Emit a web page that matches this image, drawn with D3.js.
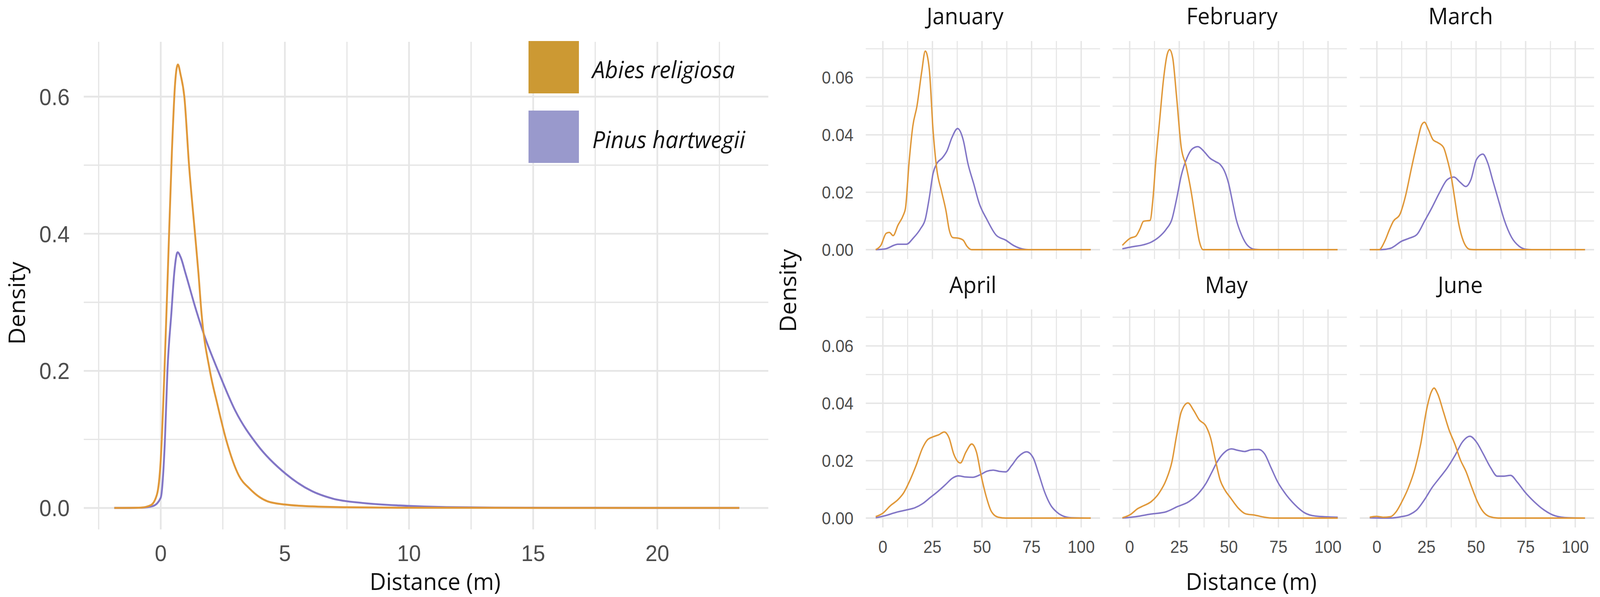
<!DOCTYPE html>
<html>
<head>
<meta charset="utf-8">
<script src="https://cdn.jsdelivr.net/npm/d3@7"></script>
<style>
  html, body { margin: 0; padding: 0; background: #fff; overflow: hidden; }
  svg { display: block; }
</style>
</head>
<body>
<div id="chart"></div>
<script>
/**
 * CONSTANTS AND GLOBALS
 * */
const width = 4317,
  height = 1528;

const orangeLine = "#e09839",
  purpleLine = "#8276c6",
  orangeKey = "#cc9933",
  purpleKey = "#9999cc",
  gridColor = "#e6e6e6",
  tickColor = "#4d4d4d",
  titleFont = "'Open Sans', sans-serif",
  tickFont = "'Liberation Sans', Arial, sans-serif";

// species shown in the legend
const species = ["Abies religiosa", "Pinus hartwegii"];
const months = ["January", "February", "March", "April", "May", "June"];

// overall densities, [distance m, density]
const abiesAll = [[-1.87,0],[-0.8,0.0005],[-0.4,0.004],[-0.15,0.02],[0,0.07],[0.15,0.2],[0.3,0.36],[0.45,0.52],[0.58,0.62],[0.69,0.647],[0.8,0.632],[0.95,0.6],[1.14,0.5],[1.38,0.4],[1.52,0.342],[1.64,0.285],[1.98,0.2],[2.27,0.153],[2.63,0.1],[3.15,0.047],[3.57,0.0285],[4.3,0.0097],[5.0,0.005],[6.1,0.0023],[7.5,0.001],[10,0.0003],[15,0.0001],[23.3,0]];
const pinusAll = [[-1.87,0],[-0.8,0.0004],[-0.3,0.003],[0,0.015],[0.17,0.1],[0.27,0.2],[0.43,0.285],[0.55,0.345],[0.68,0.373],[0.8,0.366],[1.0,0.342],[1.43,0.288],[1.79,0.248],[2.31,0.2],[3.0,0.142],[3.89,0.092],[5.04,0.0496],[6.09,0.0245],[6.92,0.0137],[8.18,0.0071],[9.94,0.0031],[11.5,0.0012],[13.5,0.0005],[16,0.0002],[23.3,0]];

// monthly densities
const abiesJan = [[-3.6,0],[-1,0.0015],[1.7,0.0057],[3.3,0.006],[5.2,0.0049],[7.6,0.0085],[10.3,0.012],[11.4,0.0144],[13.3,0.031],[15.1,0.043],[17.2,0.05],[19.6,0.062],[21.4,0.0692],[23.4,0.063],[25.3,0.0418],[27.2,0.028],[29.6,0.0203],[31.9,0.0133],[33.4,0.0071],[35.3,0.0042],[38.1,0.004],[40.5,0.0033],[42.4,0.0012],[44.8,0],[104.8,0]];
const pinusJan = [[-3.6,0],[1.4,0.0003],[7.6,0.0019],[11.9,0.0019],[15.3,0.004],[19.1,0.0074],[21.4,0.0106],[23.4,0.018],[25.3,0.0265],[27.2,0.03],[30,0.032],[32.4,0.0345],[34.8,0.039],[37.7,0.0422],[40.5,0.0383],[42.9,0.03],[45.8,0.023],[48.6,0.0161],[52.4,0.0106],[57.2,0.005],[62,0.0033],[65.8,0.0015],[71.5,0.0001],[73.4,0],[104.8,0]];
const abiesFeb = [[-3.7,0.0015],[0.3,0.004],[3.1,0.0047],[5.1,0.0071],[7,0.0099],[10.3,0.0102],[11.7,0.0175],[13.2,0.031],[15.1,0.045],[17,0.059],[18.9,0.068],[20.1,0.0697],[21.7,0.0668],[23.6,0.0536],[26,0.0356],[28.4,0.0293],[30.8,0.021],[33.2,0.0106],[35.1,0.003],[37,0],[104.8,0]];
const pinusFeb = [[-3.7,0.0003],[1.2,0.001],[7,0.0017],[10.8,0.0026],[14.6,0.0043],[18.4,0.0071],[21.3,0.0106],[23.6,0.0175],[26,0.0258],[28.9,0.032],[31.7,0.0352],[34.4,0.0359],[37.5,0.0342],[40.3,0.032],[43.2,0.0307],[45.6,0.0297],[47.9,0.0272],[49.9,0.023],[51.8,0.0168],[53.7,0.0106],[56.5,0.005],[59.4,0.0015],[63.2,0.0001],[66,0],[104.8,0]];
const abiesMar = [[-3.6,0],[1.1,0],[4,0.003],[6.4,0.0071],[8.3,0.0099],[11.6,0.0123],[14.5,0.0189],[17.3,0.028],[20.2,0.037],[22.6,0.0435],[24,0.0444],[26,0.0418],[28.3,0.0383],[30.7,0.0373],[33.6,0.0356],[35.5,0.0314],[37.4,0.0258],[39.3,0.0175],[41.2,0.0092],[43.6,0.003],[46.9,0.0001],[49,0],[104.9,0]];
const pinusMar = [[-3.6,0],[2.1,0],[6.9,0.0005],[12.6,0.003],[16.4,0.004],[20.2,0.0053],[24,0.0099],[27.8,0.0147],[31.6,0.0199],[35.5,0.0244],[38.8,0.0253],[42.1,0.0234],[44.8,0.022],[47.4,0.0244],[50.2,0.0314],[53.4,0.0333],[56,0.03],[58.3,0.0244],[61.2,0.0175],[64.1,0.0106],[67.9,0.0043],[71.7,0.0012],[75.5,0.0001],[78,0],[104.9,0]];
const abiesApr = [[-3.6,0.0005],[0,0.0017],[3.8,0.0043],[7.6,0.0064],[10.5,0.0088],[13.3,0.0126],[16.7,0.0182],[20,0.0244],[22.4,0.0272],[25.3,0.0283],[28.1,0.029],[31,0.03],[33.4,0.0279],[35.7,0.0224],[39.1,0.0192],[41.9,0.023],[44.8,0.0258],[47.2,0.023],[49.6,0.0147],[52,0.0078],[54.8,0.0022],[58.2,0.0003],[62,0],[104.8,0]];
const pinusApr = [[-3.6,0.0001],[1,0.0008],[6.7,0.002],[12.4,0.0029],[16.2,0.0036],[20,0.005],[23.8,0.0071],[27.6,0.0092],[31.5,0.0116],[35.3,0.014],[38.1,0.0147],[41.9,0.0143],[45.3,0.0142],[49.1,0.0151],[52.4,0.0163],[55.8,0.0167],[58.6,0.0163],[62,0.0161],[64.8,0.0182],[68.2,0.0213],[72.5,0.0231],[75.8,0.021],[78.6,0.0154],[81.5,0.0092],[84.8,0.0043],[87.5,0.0022],[90.5,0.0008],[95,0.0001],[104.8,0]];
const abiesMay = [[-3.7,0.0001],[0.3,0.0012],[4.1,0.0033],[7,0.0043],[10.8,0.0057],[14.6,0.0085],[18.4,0.0133],[21.3,0.0196],[23.6,0.0286],[26,0.037],[29.4,0.0401],[32.2,0.0376],[35.1,0.0342],[38.4,0.0321],[40.8,0.0279],[43.2,0.0203],[45.6,0.0133],[47.9,0.0099],[50.8,0.0071],[54.6,0.0036],[58.4,0.0015],[63.2,0.001],[68,0.0003],[72.7,0],[104.9,0]];
const pinusMay = [[-3.7,0],[3.1,0.0005],[10.8,0.0014],[18.4,0.0022],[24.1,0.004],[29.8,0.0057],[34.6,0.0085],[38.4,0.012],[41.3,0.0158],[44.1,0.0196],[47.5,0.0227],[51.3,0.0241],[54.6,0.0236],[57.9,0.0232],[61.3,0.0238],[65.1,0.0239],[68,0.0224],[71.3,0.0175],[74.6,0.0126],[78.5,0.0085],[83.2,0.0047],[88,0.0019],[93.7,0.0007],[104.9,0.0003]];
const abiesJun = [[-3.6,0.0003],[-0.3,0.0006],[3.1,0.0003],[6.9,0.0005],[9.7,0.0022],[12.6,0.0057],[15.9,0.0106],[19.3,0.0175],[22.1,0.0258],[25,0.0376],[27.4,0.0439],[28.8,0.0453],[30.7,0.0432],[33.6,0.0369],[36.4,0.0307],[39.3,0.0258],[42.1,0.0203],[45,0.0161],[47.9,0.0106],[50.7,0.0057],[53.6,0.0022],[56.9,0.0005],[61.2,0],[104.9,0]];
const pinusJun = [[-3.6,0.0001],[5.9,0],[11.6,0.0004],[16.4,0.0012],[20.2,0.0029],[24,0.0064],[27.8,0.0106],[31.6,0.014],[35.5,0.0175],[39.3,0.0217],[43.1,0.0265],[46.9,0.0285],[50.2,0.0265],[53.6,0.0224],[57.4,0.0175],[60.7,0.0146],[64.1,0.0146],[67.4,0.0149],[70.7,0.0126],[74.5,0.0092],[79.3,0.0057],[84.1,0.0029],[89.8,0.0008],[96.5,0.0001],[104.9,0]];

// tick values
const mainXTicks = [0, 5, 10, 15, 20];
const mainYTicks = [0, 0.2, 0.4, 0.6];
const facetXTicks = [0, 25, 50, 75, 100];
const facetYTicks = [0, 0.02, 0.04, 0.06];

let svg;

/**
 * INITIALIZING FUNCTION
 * */
function init() {
  // the drawing is laid out on a 4317 x 1528 grid and stretched to the window
  const vw = window.innerWidth || width,
    vh = window.innerHeight || height;

  svg = d3.select("#chart")
    .append("svg")
    .attr("width", vw)
    .attr("height", vh)
    .attr("viewBox", `0 0 ${width} ${height}`)
    .attr("preserveAspectRatio", "none");

  svg.append("rect")
    .attr("width", width)
    .attr("height", height)
    .attr("fill", "#fff");

  drawMain();
  drawFacets();
}

function gridLines(g, xScale, yScale, xs, ys, majorW, minorW, isMajorX, isMajorY) {
  const [x0, x1] = xScale.range();
  const [y0, y1] = yScale.range();
  g.selectAll(".hgrid")
    .data(ys)
    .join("line")
    .attr("class", "hgrid")
    .attr("x1", x0).attr("x2", x1)
    .attr("y1", d => yScale(d)).attr("y2", d => yScale(d))
    .attr("stroke", gridColor)
    .attr("stroke-width", d => isMajorY(d) ? majorW : minorW);
  g.selectAll(".vgrid")
    .data(xs)
    .join("line")
    .attr("class", "vgrid")
    .attr("y1", y0).attr("y2", y1)
    .attr("x1", d => xScale(d)).attr("x2", d => xScale(d))
    .attr("stroke", gridColor)
    .attr("stroke-width", d => isMajorX(d) ? majorW : minorW);
}

function axisTitle(parent, text, transform) {
  parent.append("text")
    .attr("transform", transform)
    .attr("text-anchor", "middle")
    .attr("font-family", titleFont)
    .attr("font-size", 61)
    .attr("fill", "#111")
    .text(text);
}

function drawMain() {
  const x = d3.scaleLinear().domain([-3.1, 24.47]).range([226, 2073]);
  const y = d3.scaleLinear().domain([-0.0313, 0.68]).range([1355, 107]);

  const g = svg.append("g").attr("class", "main");

  gridLines(g, x, y,
    d3.range(-2.5, 23, 2.5), d3.range(0, 0.65, 0.1),
    4.6, 3.4,
    d => Math.abs(d % 5) < 1e-9,
    d => Math.round(d * 10) % 2 === 0);

  // legend keys, no background box
  const legend = g.append("g");
  legend.selectAll("rect")
    .data(species)
    .join("rect")
    .attr("x", 1426)
    .attr("y", (d, i) => i === 0 ? 105 : 283)
    .attr("width", 136)
    .attr("height", 134)
    .attr("fill", (d, i) => i === 0 ? orangeKey : purpleKey);
  legend.selectAll("text")
    .data(species)
    .join("text")
    .attr("x", 1598)
    .attr("y", (d, i) => i === 0 ? 200 : 379)
    .attr("font-family", titleFont)
    .attr("font-style", "italic")
    .attr("font-size", 61)
    .attr("fill", "#111")
    .text(d => d);

  const line = d3.line()
    .x(d => x(d[0]))
    .y(d => y(d[1]))
    .curve(d3.curveMonotoneX);

  g.append("path").datum(pinusAll)
    .attr("d", line).attr("fill", "none")
    .attr("stroke", purpleLine).attr("stroke-width", 5);
  g.append("path").datum(abiesAll)
    .attr("d", line).attr("fill", "none")
    .attr("stroke", orangeLine).attr("stroke-width", 5);

  // ticks
  g.selectAll(".xtick")
    .data(mainXTicks)
    .join("text")
    .attr("class", "xtick")
    .attr("x", d => x(d))
    .attr("y", 1436)
    .attr("text-anchor", "middle")
    .attr("font-family", tickFont)
    .attr("font-size", 58)
    .attr("fill", tickColor)
    .text(d => d);
  g.selectAll(".ytick")
    .data(mainYTicks)
    .join("text")
    .attr("class", "ytick")
    .attr("x", 188)
    .attr("y", d => y(d))
    .attr("dy", "0.36em")
    .attr("text-anchor", "end")
    .attr("font-family", tickFont)
    .attr("font-size", 59)
    .attr("fill", tickColor)
    .text(d => d3.format(".1f")(d));

  axisTitle(g, "Distance (m)", "translate(1174,1510)");
  axisTitle(g, "Density", "translate(67,776) rotate(-90)");
}

function drawFacets() {
  const abies = [abiesJan, abiesFeb, abiesMar, abiesApr, abiesMay, abiesJun];
  const pinus = [pinusJan, pinusFeb, pinusMar, pinusApr, pinusMay, pinusJun];
  const panelLefts = [2336, 3002, 3669];
  const panelTops = [105, 792];
  const panelW = 632, panelH = 558;
  const titleX = [2604, 3324, 3941, 2625, 3309, 3940];
  const titleY = [62, 750];

  months.forEach((m, i) => {
    const col = i % 3, row = Math.floor(i / 3);
    const left = panelLefts[col], top = panelTops[row];
    const x = d3.scaleLinear().domain([-8.6, 109.5]).range([left, left + panelW]);
    const y = d3.scaleLinear().domain([-0.00327, 0.0727]).range([top + panelH, top]);
    const g = svg.append("g").attr("class", "facet");

    gridLines(g, x, y,
      d3.range(0, 101, 12.5), d3.range(0, 0.071, 0.01),
      3.8, 2.8,
      d => d % 25 === 0,
      d => Math.round(d * 100) % 2 === 0);

    const line = d3.line()
      .x(d => x(d[0]))
      .y(d => y(d[1]))
      .curve(d3.curveMonotoneX);

    g.append("path").datum(pinus[i])
      .attr("d", line).attr("fill", "none")
      .attr("stroke", purpleLine).attr("stroke-width", 3.8);
    g.append("path").datum(abies[i])
      .attr("d", line).attr("fill", "none")
      .attr("stroke", orangeLine).attr("stroke-width", 3.8);

    g.append("text")
      .attr("x", titleX[i]).attr("y", titleY[row])
      .attr("text-anchor", "middle")
      .attr("font-family", titleFont)
      .attr("font-size", 59)
      .attr("fill", "#111")
      .text(m);

    if (col === 0) {
      g.selectAll(".ytick")
        .data(facetYTicks)
        .join("text")
        .attr("class", "ytick")
        .attr("x", 2303)
        .attr("y", d => y(d))
        .attr("dy", "0.36em")
        .attr("text-anchor", "end")
        .attr("font-family", tickFont)
        .attr("font-size", 44)
        .attr("fill", tickColor)
        .text(d => d3.format(".2f")(d));
    }
    if (row === 1) {
      g.selectAll(".xtick")
        .data(facetXTicks)
        .join("text")
        .attr("class", "xtick")
        .attr("x", d => x(d))
        .attr("y", 1415)
        .attr("text-anchor", "middle")
        .attr("font-family", tickFont)
        .attr("font-size", 44)
        .attr("fill", tickColor)
        .text(d => d);
    }
  });

  axisTitle(svg, "Distance (m)", "translate(3376,1510)");
  axisTitle(svg, "Density", "translate(2148,744) rotate(-90)");
}

init();
</script>
</body>
</html>
